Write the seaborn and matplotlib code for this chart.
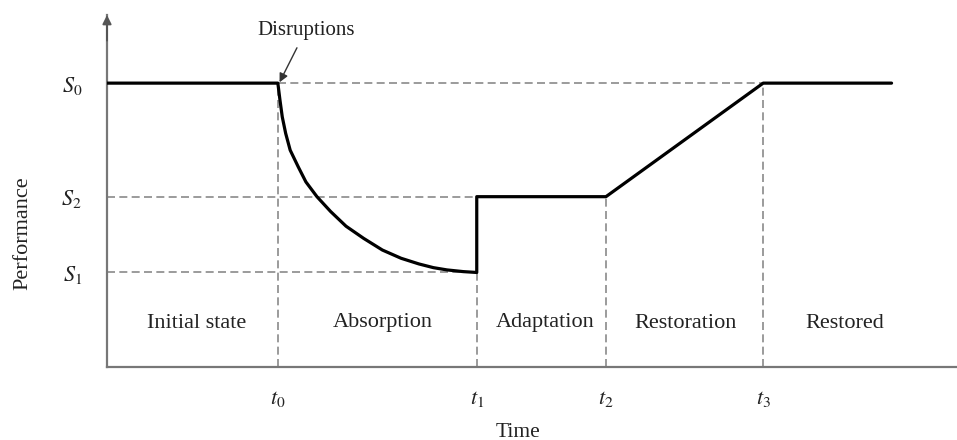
import matplotlib
matplotlib.use("Agg")
import matplotlib.pyplot as plt
import seaborn as sns
import pandas as pd

# ---- values ----
S0, S1, S2 = 1.0, 0.333, 0.60
t0, t1, t2, t3 = 2.01, 4.35, 5.87, 7.72
t_end = 9.23

# absorption curve points
curve_x = [2.01, 2.035, 2.062, 2.102, 2.155, 2.25, 2.34, 2.47, 2.63, 2.812,
           3.02, 3.24, 3.46, 3.67, 3.84, 4.00, 4.192, 4.35]
curve_y = [1.00, 0.940, 0.881, 0.823, 0.764, 0.705, 0.652, 0.600, 0.548, 0.496,
           0.453, 0.412, 0.383, 0.363, 0.350, 0.342, 0.336, 0.333]

y_tick_vals = [S1, S2, S0]
y_tick_labels = [r"$S_1$", r"$S_2$", r"$S_0$"]
x_tick_vals = [t0, t1, t2, t3]
x_tick_labels = [r"$t_0$", r"$t_1$", r"$t_2$", r"$t_3$"]

phase_names = ["Initial state", "Absorption", "Adaptation", "Restoration", "Restored"]
phase_x = [1.06, 3.24, 5.15, 6.81, 8.68]
phase_y = 0.155

# ---- style ----
sns.set_theme(style="white")
plt.rcParams["font.family"] = ["Liberation Serif", "DejaVu Serif"]
plt.rcParams["mathtext.fontset"] = "stix"

fig = plt.figure(figsize=(9.57, 4.4), dpi=100)
ax = fig.add_axes([107 / 957, 73 / 440, 850 / 957, 352 / 440])
ax.set_xlim(0, 10)
ax.set_ylim(0, 1.24)

# path of performance
path_x = [0, t0] + curve_x[1:] + [t1, t2, t3, t_end]
path_y = [S0, S0] + curve_y[1:] + [S2, S2, S0, S0]
df = pd.DataFrame({"Time": path_x, "Performance": path_y})

dash_kw = dict(color="#8a8a8a", lw=1.2, linestyles=(0, (4.8, 2.6)), zorder=1)
ax.hlines(S0, t0, t3, **dash_kw)
ax.hlines(S2, 0, t1, **dash_kw)
ax.hlines(S1, 0, t1, **dash_kw)
ax.vlines(t0, 0, S0, **dash_kw)
ax.vlines(t1, 0, S1, **dash_kw)
ax.vlines(t2, 0, S2, **dash_kw)
ax.vlines(t3, 0, S0, **dash_kw)

sns.lineplot(data=df, x="Time", y="Performance", sort=False, estimator=None,
             color="black", lw=2.3, ax=ax, zorder=3)
for ln in ax.get_lines():
    ln.set_solid_joinstyle("round")

# spines
for s in ["top", "right"]:
    ax.spines[s].set_visible(False)
for s in ["left", "bottom"]:
    ax.spines[s].set_color("#777777")
    ax.spines[s].set_linewidth(1.6)

# arrow on y axis
ax.annotate("", xy=(0, 1.24), xytext=(0, 1.15), xycoords="data",
            arrowprops=dict(arrowstyle="-|>", color="#555555", lw=1.4,
                            mutation_scale=13, shrinkA=0, shrinkB=0),
            annotation_clip=False)

# ticks
ax.set_yticks(y_tick_vals)
ax.set_yticklabels(y_tick_labels, fontsize=16)
ax.set_xticks(x_tick_vals)
ax.set_xticklabels(x_tick_labels, fontsize=16)
ax.tick_params(axis="both", length=0, colors="#222222")
ax.tick_params(axis="y", pad=18)
ax.tick_params(axis="x", pad=16)

# axis labels
ax.set_xlabel("Time", fontsize=15.5, color="#222222")
ax.xaxis.label.set_va("center")
ax.xaxis.set_label_coords((518 - 107) / 850, (367 - 432) / 352)
ax.set_ylabel("Performance", fontsize=16, color="#222222")
ax.yaxis.label.set_va("center")
ax.yaxis.set_label_coords((23 - 107) / 850, (367 - 233) / 352)

# phase labels
for name, px in zip(phase_names, phase_x):
    ax.text(px, phase_y, name, ha="center", va="center", fontsize=16, color="#222222")

# disruptions annotation
ax.annotate("Disruptions", xy=(t0 + 0.02, S0 + 0.003), xytext=(2.34, 1.187),
            ha="center", va="center", fontsize=15, color="#222222",
            arrowprops=dict(arrowstyle="-|>", color="#333333", lw=1.0,
                            mutation_scale=13, shrinkA=4, shrinkB=0),
            annotation_clip=False)

ax.grid(False)
fig.savefig("out.png", dpi=100)
